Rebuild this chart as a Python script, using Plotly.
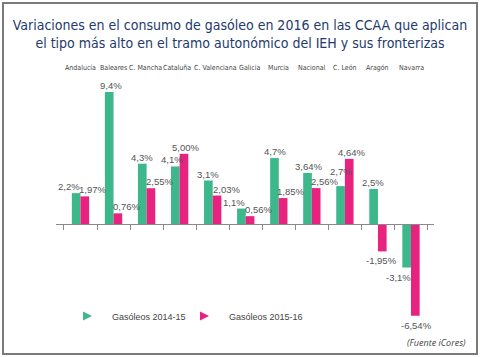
import plotly.graph_objects as go

categories = ["Andalucía", "Baleares", "C. Mancha", "Cataluña", "C. Valenciana",
              "Galicia", "Murcia", "Nacional", "C. León", "Aragón", "Navarra"]
series_names = ["Gasóleos 2014-15", "Gasóleos 2015-16"]
values_1415 = [2.2, 9.4, 4.3, 4.1, 3.1, 1.1, 4.7, 3.64, 2.7, 2.5, -3.1]
values_1516 = [1.97, 0.76, 2.55, 5.00, 2.03, 0.56, 1.85, 2.56, 4.64, -1.95, -6.54]
labels_1415 = ["2,2%", "9,4%", "4,3%", "4,1%", "3,1%", "1,1%", "4,7%", "3,64%", "2,7%", "2,5%", "-3,1%"]
labels_1516 = ["1,97%", "0,76%", "2,55%", "5,00%", "2,03%", "0,56%", "1,85%", "2,56%", "4,64%", "-1,95%", "-6,54%"]

# style: nudges (px) of each value label relative to its bar
nudge_x_1415 = [-7, 2, 0, -3, 0, -7, 1, 1, 1, 0, -8]
nudge_x_1516 = [7, 8, 8, 1, 9, 8, 7, 8, 2, -1, 1]
nudge_y_1415 = [0, 0, 0, 0, 0, 0, 0, 0, 8, 0, 0]
nudge_y_1516 = [0] * 11
# style: horizontal nudge (px) of the category names at the top
nudge_cat = [0, 0, -1, -3, 3, 4, 0, 0, 0, 0, 0]

GREEN = "#3db78c"
PINK = "#e8237f"
LABEL_FONT = dict(family="Liberation Sans, Arial, sans-serif", size=9.5, color="#555555")
COND = "DejaVu Sans Condensed, Roboto, sans-serif"

W, H = 480, 357
L, R, T, B = 56, 46, 80, 27
ymin, ymax = -7.55, 10.26
plot_w = W - L - R
plot_h = H - T - B

def px_x(px):
    return (px - L) / plot_w

def px_y(py):
    return (H - B - py) / plot_h

fig = go.Figure()
series = [(values_1415, labels_1415, nudge_x_1415, nudge_y_1415, GREEN, series_names[0], -4.5),
          (values_1516, labels_1516, nudge_x_1516, nudge_y_1516, PINK, series_names[1], 4.5)]
for vals, labs, nx, ny, col, name, off in series:
    fig.add_trace(go.Bar(x=categories, y=vals, marker_color=col, name=name,
                         showlegend=False, marker_line_width=0, hoverinfo="skip"))
    for c, v, t, dx, dy in zip(categories, vals, labs, nx, ny):
        fig.add_annotation(x=c, y=v, text=t, showarrow=False, xref="x", yref="y",
                           xshift=off + dx, yanchor="bottom" if v >= 0 else "top",
                           yshift=(-1 + dy) if v >= 0 else -2, font=LABEL_FONT)
    fig.add_trace(go.Scatter(x=[None], y=[None], mode="markers", name=name,
                             marker=dict(symbol="arrow-right", size=9, color=col)))

for c, dx in zip(categories, nudge_cat):
    fig.add_annotation(x=c, y=px_y(68), xref="x", yref="paper", text=c, showarrow=False,
                       xshift=dx, yanchor="middle",
                       font=dict(family=COND, size=7, color="#444444"))

fig.add_annotation(x=px_x(468), y=px_y(342), xref="paper", yref="paper",
                   text="<i>(Fuente iCores)</i>", showarrow=False, xanchor="right",
                   yanchor="middle", font=dict(family="Open Sans, sans-serif", size=9, color="#444444"))

fig.add_shape(type="rect", xref="paper", yref="paper",
              x0=px_x(3), x1=px_x(477), y0=px_y(354), y1=px_y(3),
              line=dict(color="#7a7a7a", width=2), layer="above")

fig.update_layout(
    width=W, height=H,
    margin=dict(l=L, r=R, t=T, b=B),
    paper_bgcolor="white", plot_bgcolor="white",
    barmode="group", bargap=0.476, bargroupgap=0,
    title=dict(text="Variaciones en el consumo de gasóleo en 2016 en las CCAA que aplican<br>"
                    "el tipo más alto en el tramo autonómico del IEH y sus fronterizas",
               x=0.5, xref="container", xanchor="center",
               y=1 - 30 / H, yref="container", yanchor="middle",
               font=dict(family=COND, size=14, color="#233a6c")),
    xaxis=dict(type="category", showline=True, linecolor="#8a8a8a", linewidth=1,
               ticks="outside", tickson="boundaries", ticklen=5, tickcolor="#8a8a8a",
               showticklabels=False, showgrid=False, zeroline=False,
               anchor="free", position=(0 - ymin) / (ymax - ymin)),
    yaxis=dict(range=[ymin, ymax], showgrid=False, zeroline=False, showline=False,
               showticklabels=False, ticks=""),
    legend=dict(orientation="h", x=px_x(72), y=px_y(316), xanchor="left", yanchor="middle",
                font=dict(family="Liberation Sans, Arial, sans-serif", size=9, color="#444444"),
                entrywidth=72, itemwidth=30, bgcolor="rgba(0,0,0,0)"),
    showlegend=True,
    hovermode=False,
)

fig.write_html("out.html", config={"displayModeBar": False},
               post_script="document.body.style.margin='0';")
